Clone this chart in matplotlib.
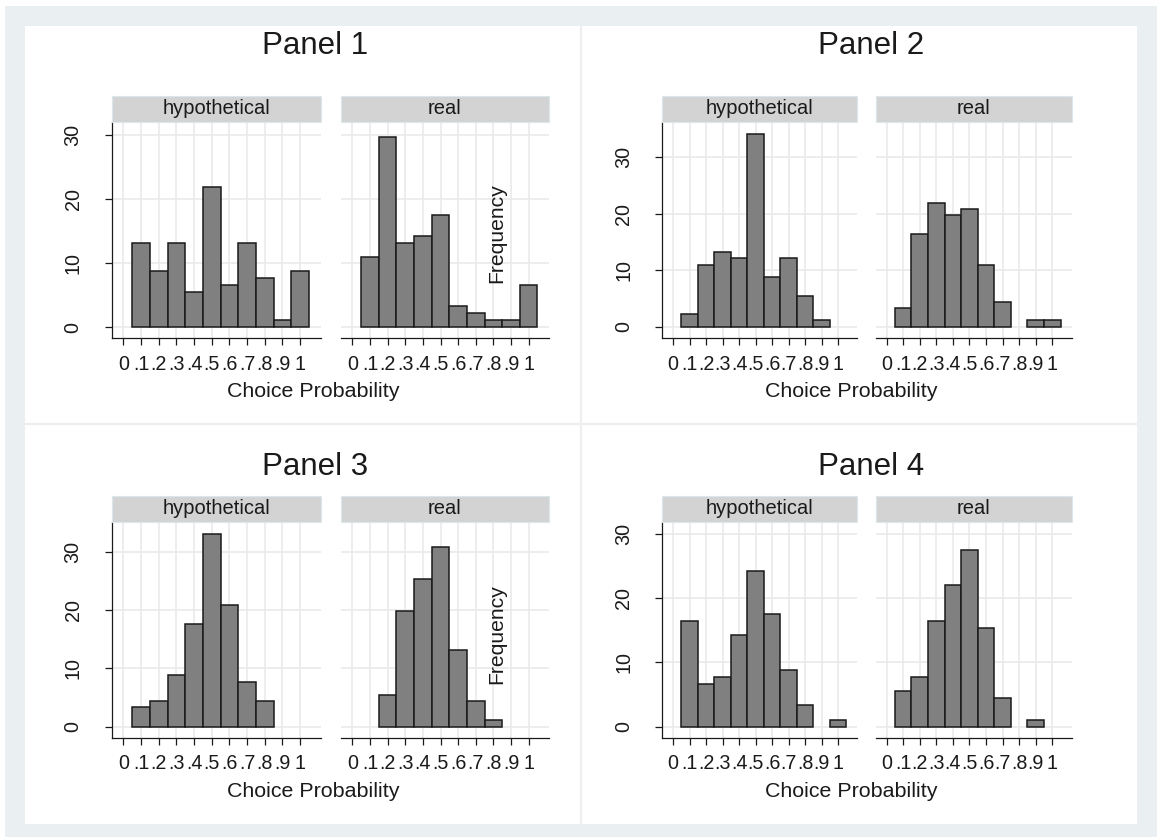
import matplotlib
matplotlib.use("Agg")
import matplotlib.pyplot as plt
from matplotlib.patches import Rectangle
from matplotlib.lines import Line2D
import numpy as np

plt.rcParams['font.family'] = ['Liberation Sans', 'DejaVu Sans']

# ---- data (percent per bin, bins centred at .1 ... 1) ----
bin_centers = [0.1, 0.2, 0.3, 0.4, 0.5, 0.6, 0.7, 0.8, 0.9, 1.0]
x_ticks = [0, 0.1, 0.2, 0.3, 0.4, 0.5, 0.6, 0.7, 0.8, 0.9, 1.0]
x_tick_labels = ["0", ".1", ".2", ".3", ".4", ".5", ".6", ".7", ".8", ".9", "1"]
y_ticks = [0, 10, 20, 30]
facet_labels = ["hypothetical", "real"]
panel_titles = ["Panel 1", "Panel 2", "Panel 3", "Panel 4"]

p1_hyp = [13.19, 8.79, 13.19, 5.49, 21.98, 6.59, 13.19, 7.69, 1.10, 8.79]
p1_real = [10.99, 29.67, 13.19, 14.29, 17.58, 3.30, 2.20, 1.10, 1.10, 6.59]
p2_hyp = [2.20, 10.99, 13.19, 12.09, 34.07, 8.79, 12.09, 5.49, 1.10, 0]
p2_real = [3.30, 16.48, 21.98, 19.78, 20.88, 10.99, 4.40, 0, 1.10, 1.10]
p3_hyp = [3.30, 4.40, 8.79, 17.58, 32.97, 20.88, 7.69, 4.40, 0, 0]
p3_real = [0, 5.49, 19.78, 25.27, 30.77, 13.19, 4.40, 1.10, 0, 0]
p4_hyp = [16.48, 6.59, 7.69, 14.29, 24.18, 17.58, 8.79, 3.30, 0, 1.10]
p4_real = [5.49, 7.69, 16.48, 21.98, 27.47, 15.38, 4.40, 0, 1.10, 0]

panels = [(p1_hyp, p1_real), (p2_hyp, p2_real), (p3_hyp, p3_real), (p4_hyp, p4_real)]

W, H = 1159, 839
fig = plt.figure(figsize=(W / 100, H / 100), dpi=100)
fig.patch.set_facecolor("white")

def fx(px):
    return px / W

def fy(py):
    return 1 - py / H

# background frame
fig.add_artist(Rectangle((fx(5), fy(837)), fx(1157) - fx(5), fy(6) - fy(837),
                         transform=fig.transFigure, facecolor="#EAF0F2", edgecolor="none", zorder=-10))
fig.add_artist(Rectangle((fx(25), fy(824)), fx(1137) - fx(25), fy(26) - fy(824),
                         transform=fig.transFigure, facecolor="white", edgecolor="none", zorder=-9))
# separators
fig.add_artist(Line2D([fx(581), fx(581)], [fy(26), fy(824)], transform=fig.transFigure,
                      color="#EEEEEE", lw=1.6, zorder=-8))
fig.add_artist(Line2D([fx(25), fx(1137)], [fy(424), fy(424)], transform=fig.transFigure,
                      color="#EEEEEE", lw=1.6, zorder=-8))

# layout (pixels)
col_x = [[(111.7, 320.7), (340.7, 549.3)], [(662.3, 857.3), (875.7, 1071.7)]]
row_y = [(95.7, 121.7, 338.0), (495.7, 522.3, 737.7)]
ylims = [(-1.67, 32.1), (-2.0, 36.3), (-1.89, 35.04), (-1.71, 31.8)]
title_pos = [(315, 46), (871, 46), (315, 467), (871, 467)]
xlabel_pos = [(313.7, 391.7), (850.8, 391.7), (313.7, 791.7), (850.8, 791.7)]
freq_pos = {0: (496.7, 233), 2: (496.7, 634)}

for pi, (hyp, real) in enumerate(panels):
    r, c = divmod(pi, 2)
    strip_top, ax_top, ax_bot = row_y[r]
    for fi, vals in enumerate((hyp, real)):
        x0, x1 = col_x[c][fi]
        ax = fig.add_axes([fx(x0), fy(ax_bot), fx(x1) - fx(x0), fy(ax_top) - fy(ax_bot)])
        ax.set_facecolor("white")
        centers = [b for b, v in zip(bin_centers, vals) if v > 0]
        heights = [v for v in vals if v > 0]
        ax.bar(centers, heights, width=0.1, color="#808080", edgecolor="#1a1a1a",
               linewidth=1.1, zorder=3)
        ax.set_xlim(-0.066, 1.117)
        ax.set_ylim(*ylims[pi])
        ax.set_xticks(x_ticks)
        ax.set_xticklabels(x_tick_labels, fontsize=14.2)
        ax.set_yticks(y_ticks)
        ax.grid(True, color="#EAEAEA", lw=1.2, zorder=0)
        ax.set_axisbelow(True)
        for s in ("top", "right"):
            ax.spines[s].set_visible(False)
        ax.spines["bottom"].set_linewidth(0.9)
        ax.tick_params(axis="x", length=5, width=0.9, pad=7, colors="#1a1a1a")
        ax.spines["bottom"].set_color("#1a1a1a")
        if fi == 0:
            ax.spines["left"].set_linewidth(0.9)
            ax.spines["left"].set_color("#1a1a1a")
            ax.tick_params(axis="y", length=5, width=0.9, pad=16, labelsize=14.2, colors="#1a1a1a")
            ax.set_yticklabels([str(v) for v in y_ticks], rotation=90, va="center")
        else:
            ax.spines["left"].set_visible(False)
            ax.tick_params(axis="y", length=0, labelleft=False)
        # strip
        fig.add_artist(Rectangle((fx(x0), fy(ax_top)), fx(x1) - fx(x0), fy(strip_top) - fy(ax_top),
                                 transform=fig.transFigure, facecolor="#D3D3D3",
                                 edgecolor="#DCE7EC", lw=0.8))
        fig.text((fx(x0) + fx(x1)) / 2, (fy(strip_top) + fy(ax_top)) / 2, facet_labels[fi],
                 ha="center", va="center", fontsize=14.5, color="#1a1a1a")
    tx, ty = title_pos[pi]
    fig.text(fx(tx), fy(ty), panel_titles[pi], ha="center", va="center", fontsize=22.5, color="#1a1a1a")
    lx, ly = xlabel_pos[pi]
    fig.text(fx(lx), fy(ly), "Choice Probability", ha="center", va="center", fontsize=15.4, color="#1a1a1a")
    if pi in freq_pos:
        qx, qy = freq_pos[pi]
        fig.text(fx(qx), fy(qy), "Frequency", ha="center", va="center", rotation=90,
                 fontsize=15.2, color="#1a1a1a")

fig.savefig("out.png", dpi=100, facecolor=fig.get_facecolor())
